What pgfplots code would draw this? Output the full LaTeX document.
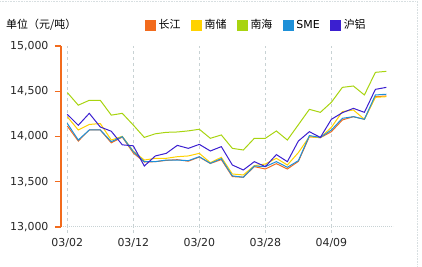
\documentclass[border=0pt]{standalone}
\usepackage{fontspec}
\setmainfont{DejaVu Sans}
\newfontfamily\cjk{Noto Sans CJK SC}
\usepackage{pgfplots}
\usepackage{pgfplotstable}
\pgfplotsset{compat=1.18}
\definecolor{cj}{HTML}{F26B1D}
\definecolor{nc}{HTML}{FFD200}
\definecolor{nh}{HTML}{A8D410}
\definecolor{sme}{HTML}{1E90D8}
\definecolor{hl}{HTML}{3B1FD0}
\definecolor{gridc}{HTML}{C8D2D4}
\pgfplotstableread{
i cj nc nh sme hl
0 14116 14219 14486 14145 14245
1 13950 14072 14346 13961 14124
2 14072 14133 14400 14072 14256
3 14072 14143 14400 14072 14105
4 13930 13961 14236 13943 14058
5 13994 14002 14256 13998 13908
6 13818 13838 14126 13833 13897
7 13718 13740 13990 13722 13674
8 13722 13759 14030 13722 13785
9 13736 13759 14046 13740 13814
10 13744 13777 14050 13740 13902
11 13727 13785 14062 13733 13869
12 13773 13814 14080 13777 13913
13 13702 13711 13980 13704 13840
14 13745 13770 14017 13755 13888
15 13557 13586 13869 13565 13685
16 13550 13575 13851 13550 13630
17 13667 13678 13980 13674 13722
18 13641 13696 13980 13667 13667
19 13700 13759 14061 13722 13800
20 13641 13685 13961 13660 13722
21 13725 13822 14130 13733 13950
22 13998 13998 14300 14010 14053
23 13987 13987 14267 13990 13990
24 14053 14101 14378 14072 14190
25 14183 14275 14543 14201 14263
26 14219 14293 14558 14219 14311
27 14190 14190 14459 14190 14267
28 14440 14433 14709 14459 14521
29 14448 14440 14720 14467 14543
}\prices
\begin{document}
\begin{tikzpicture}[x=1bp,y=1bp]
\path[use as bounding box] (0,0) rectangle (422,267);
\draw[gridc!70, densely dotted, line width=0.6bp] (0,266) -- (417,266) -- (417,0);
\node[anchor=west, inner sep=0pt, font=\cjk\fontsize{11}{13}\selectfont] at (6,242) {单位（元/吨）};
\begin{axis}[
  at={(61bp,40bp)}, anchor=south west,
  scale only axis, width=332bp, height=181bp,
  xmin=-0.57, xmax=29.6, ymin=13000, ymax=15000,
  axis x line*=bottom, axis y line*=left,
  axis line style={draw=none},
  xtick={0,6,12,18,24},
  xticklabels={03/02,03/12,03/20,03/28,04/09},
  ytick={13000,13500,14000,14500,15000},
  scaled y ticks=false,
  yticklabel={\pgfmathprintnumber[fixed,precision=0,1000 sep={,},assume math mode=true]{\tick}},
  tick align=outside, major tick length=6bp,
  x tick style={draw=gridc, dashed, line width=0.7bp},
  y tick style={draw=cj, solid, line width=1.3bp},
  xmajorgrids, grid style={gridc, dashed, line width=0.7bp},
  ticklabel style={font=\fontsize{11}{13}\selectfont, text=black!85},
  yticklabel style={xshift=-3bp},
  xticklabel style={yshift=-2bp},
  legend columns=5,
  legend style={draw=none, fill=none, at={(0.253,1.116)}, anchor=west, inner sep=0pt,
    font=\fontsize{11}{13}\selectfont,
    nodes={inner sep=2.5bp},
    /tikz/every even column/.append style={column sep=8bp}},
  legend image code/.code={\fill[#1] (0bp,-5bp) rectangle (10bp,5bp);},
  every axis plot/.append style={line width=1bp},
]
\addplot[cj, mark=none] table[x=i, y=cj] {\prices};
\addlegendentry{\cjk 长江}
\addplot[nc, mark=none] table[x=i, y=nc] {\prices};
\addlegendentry{\cjk 南储}
\addplot[nh, mark=none] table[x=i, y=nh] {\prices};
\addlegendentry{\cjk 南海}
\addplot[sme, mark=none] table[x=i, y=sme] {\prices};
\addlegendentry{SME}
\addplot[hl, mark=none] table[x=i, y=hl] {\prices};
\addlegendentry{\cjk 沪铝}
\end{axis}
\draw[gridc, dash pattern=on 1bp off 1bp, line width=1bp] (61,40) -- (393,40);
\draw[cj, solid, line width=1.3bp] (61,40) -- (61,221);
\end{tikzpicture}
\end{document}
